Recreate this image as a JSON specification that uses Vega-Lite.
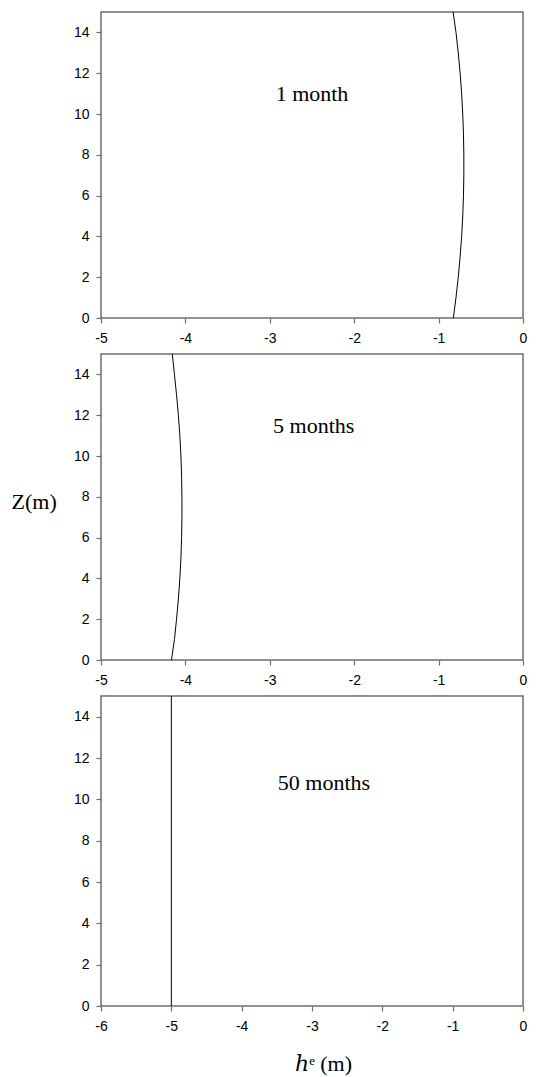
{
  "$schema": "https://vega.github.io/schema/vega-lite/v6.json",
  "padding": {"left": 10, "top": 9, "right": 5, "bottom": 2},
  "autosize": {"type": "pad"},
  "background": "white",
  "config": {
    "view": {"stroke": "#6e6e6e", "strokeWidth": 1.5},
    "axis": {
      "grid": false,
      "domain": false,
      "tickColor": "#6e6e6e",
      "tickSize": 5,
      "tickWidth": 1.2,
      "format": "d",
      "labelFlush": false,
      "labelFont": "Liberation Sans",
      "labelFontSize": 14,
      "labelColor": "#000000",
      "labelExpr": "replace(datum.label, '\u2212', '-')"
    },
    "axisX": {"labelPadding": 8},
    "axisY": {"labelPadding": 7},
    "concat": {"spacing": 5}
  },
  "datasets": {
    "m1": [
      {"h": -0.825, "z": 0}, {"h": -0.794, "z": 1}, {"h": -0.767, "z": 2}, {"h": -0.745, "z": 3},
      {"h": -0.727, "z": 4}, {"h": -0.714, "z": 5}, {"h": -0.705, "z": 6}, {"h": -0.701, "z": 7},
      {"h": -0.701, "z": 8}, {"h": -0.705, "z": 9}, {"h": -0.714, "z": 10}, {"h": -0.727, "z": 11},
      {"h": -0.745, "z": 12}, {"h": -0.767, "z": 13}, {"h": -0.794, "z": 14}, {"h": -0.828, "z": 15}
    ],
    "m5": [
      {"h": -4.165, "z": 0}, {"h": -4.130, "z": 1}, {"h": -4.105, "z": 2}, {"h": -4.083, "z": 3},
      {"h": -4.066, "z": 4}, {"h": -4.053, "z": 5}, {"h": -4.045, "z": 6}, {"h": -4.041, "z": 7},
      {"h": -4.041, "z": 8}, {"h": -4.045, "z": 9}, {"h": -4.053, "z": 10}, {"h": -4.066, "z": 11},
      {"h": -4.083, "z": 12}, {"h": -4.105, "z": 13}, {"h": -4.130, "z": 14}, {"h": -4.155, "z": 15}
    ],
    "m50": [
      {"h": -5, "z": 0}, {"h": -5, "z": 15}
    ]
  },
  "vconcat": [
    {
      "width": 422,
      "height": 306,
      "layer": [
        {
          "data": {"name": "m1"},
          "mark": {"type": "line", "color": "black", "strokeWidth": 1},
          "encoding": {
            "x": {"field": "h", "type": "quantitative", "scale": {"domain": [-5, 0], "nice": false, "zero": false}, "axis": {"title": null, "values": [-5, -4, -3, -2, -1, 0]}},
            "y": {"field": "z", "type": "quantitative", "scale": {"domain": [0, 15], "nice": false}, "axis": {"title": null, "values": [0, 2, 4, 6, 8, 10, 12, 14]}},
            "order": {"field": "z"}
          }
        },
        {
          "data": {"values": [{"h": -2.5, "z": 11.0, "label": "1 month"}]},
          "mark": {"type": "text", "font": "Liberation Serif", "fontSize": 22, "color": "black", "align": "center", "baseline": "middle"},
          "encoding": {
            "x": {"field": "h", "type": "quantitative"},
            "y": {"field": "z", "type": "quantitative"},
            "text": {"field": "label"}
          }
        }
      ]
    },
    {
      "width": 422,
      "height": 306,
      "layer": [
        {
          "data": {"name": "m5"},
          "mark": {"type": "line", "color": "black", "strokeWidth": 1},
          "encoding": {
            "x": {"field": "h", "type": "quantitative", "scale": {"domain": [-5, 0], "nice": false, "zero": false}, "axis": {"title": null, "values": [-5, -4, -3, -2, -1, 0]}},
            "y": {"field": "z", "type": "quantitative", "scale": {"domain": [0, 15], "nice": false}, "axis": {"title": "Z(m)", "values": [0, 2, 4, 6, 8, 10, 12, 14], "titleAngle": 0, "titleFont": "Liberation Serif", "titleFontSize": 22, "titleFontWeight": "normal", "titleColor": "black", "titleAlign": "left", "titleBaseline": "middle", "titleX": -90, "titleY": 147}},
            "order": {"field": "z"}
          }
        },
        {
          "data": {"values": [{"h": -2.48, "z": 11.45, "label": "5 months"}]},
          "mark": {"type": "text", "font": "Liberation Serif", "fontSize": 22, "color": "black", "align": "center", "baseline": "middle"},
          "encoding": {
            "x": {"field": "h", "type": "quantitative"},
            "y": {"field": "z", "type": "quantitative"},
            "text": {"field": "label"}
          }
        }
      ]
    },
    {
      "width": 422,
      "height": 310,
      "layer": [
        {
          "data": {"name": "m50"},
          "mark": {"type": "line", "color": "black", "strokeWidth": 1},
          "encoding": {
            "x": {"field": "h", "type": "quantitative", "scale": {"domain": [-6, 0], "nice": false, "zero": false}, "axis": {"title": "\u210e\u1d49 (m)", "values": [-6, -5, -4, -3, -2, -1, 0], "titleFont": "Liberation Serif, DejaVu Serif", "titleFontSize": 22, "titleFontWeight": "normal", "titleColor": "black", "titleX": 222, "titleY": 57, "titleBaseline": "middle"}},
            "y": {"field": "z", "type": "quantitative", "scale": {"domain": [0, 15], "nice": false}, "axis": {"title": null, "values": [0, 2, 4, 6, 8, 10, 12, 14]}},
            "order": {"field": "z"}
          }
        },
        {
          "data": {"values": [{"h": -2.83, "z": 10.8, "label": "50 months"}]},
          "mark": {"type": "text", "font": "Liberation Serif", "fontSize": 22, "color": "black", "align": "center", "baseline": "middle"},
          "encoding": {
            "x": {"field": "h", "type": "quantitative"},
            "y": {"field": "z", "type": "quantitative"},
            "text": {"field": "label"}
          }
        }
      ]
    }
  ]
}
